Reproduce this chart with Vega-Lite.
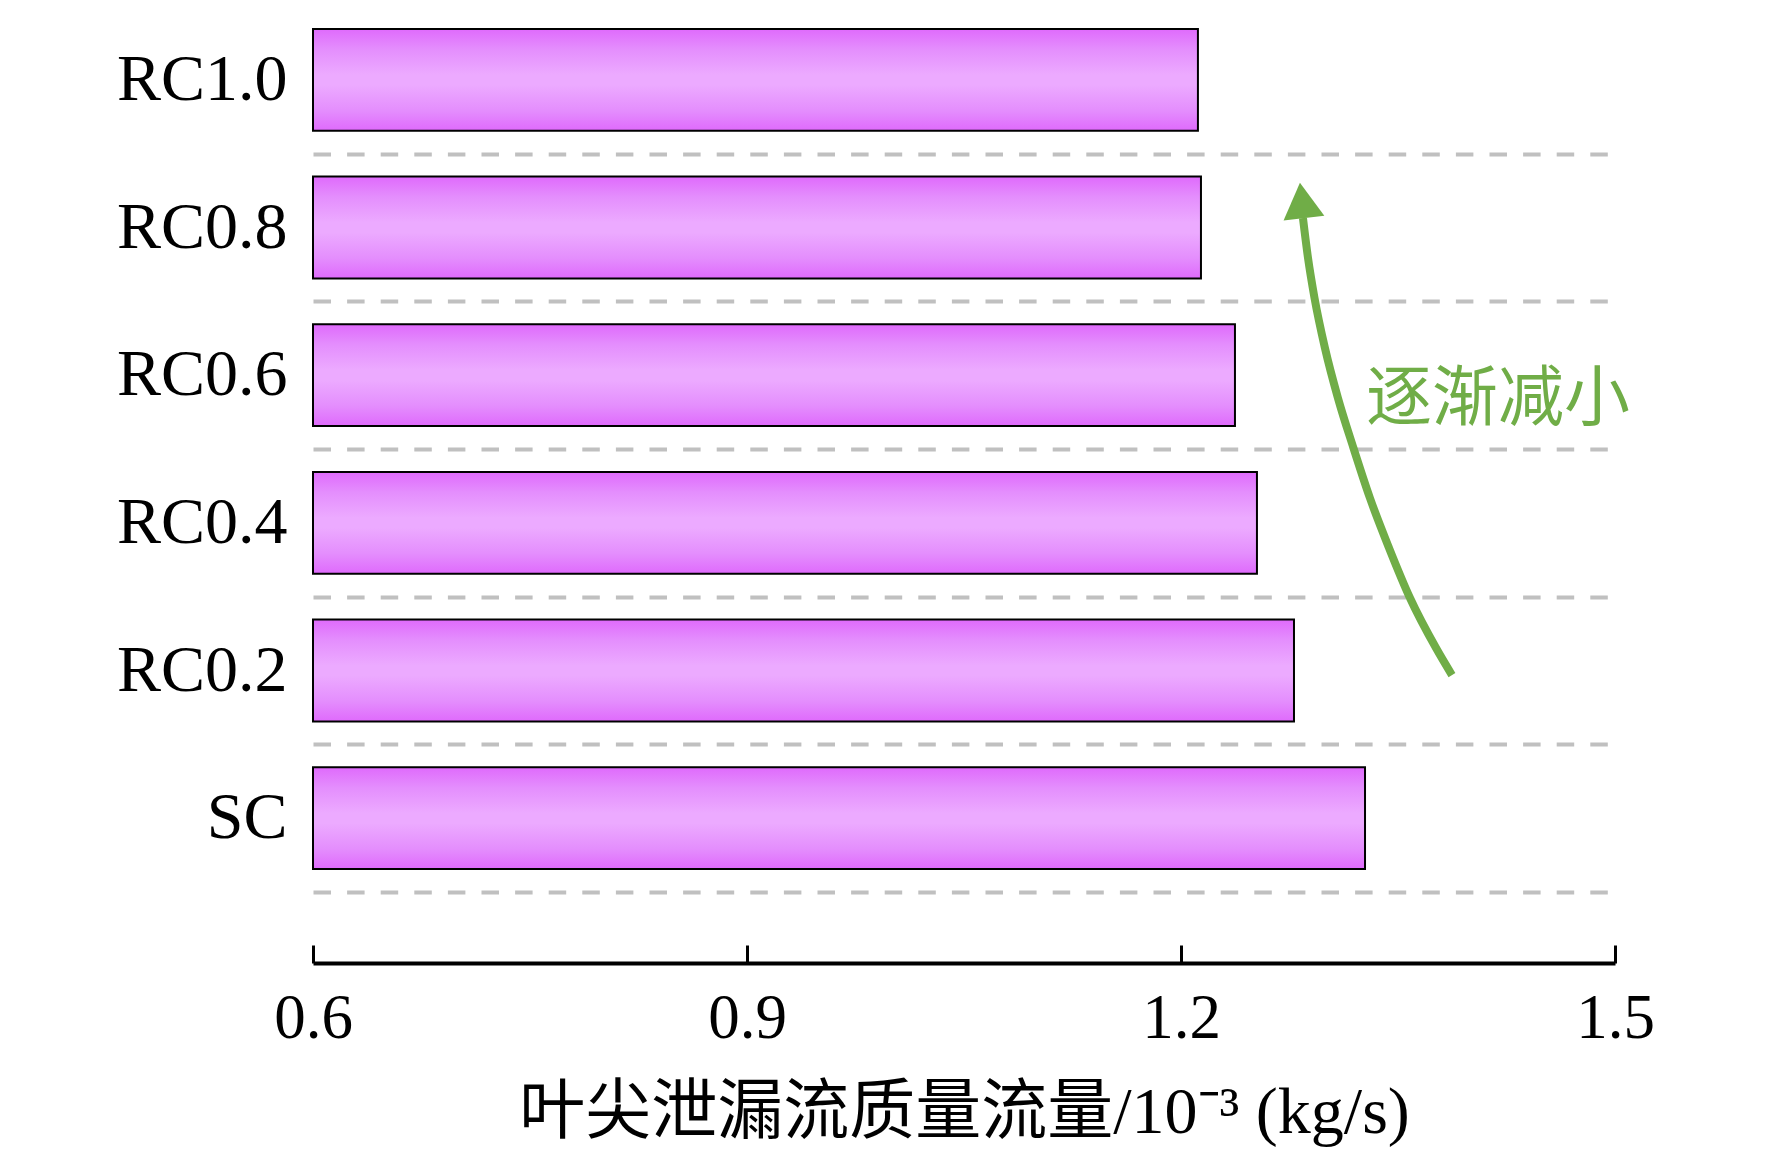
{
  "$schema": "https://vega.github.io/schema/vega-lite/v6.json",
  "autosize": {"type": "none"},
  "padding": {"left": 313, "top": 6, "right": 157, "bottom": 262},
  "width": 1302,
  "height": 886,
  "background": "white",
  "config": {"view": {"stroke": null}},
  "layer": [
    {
      "data": {
        "values": [
          {"case": "RC1.0", "flow": 1.2117},
          {"case": "RC0.8", "flow": 1.2138},
          {"case": "RC0.6", "flow": 1.2373},
          {"case": "RC0.4", "flow": 1.2525},
          {"case": "RC0.2", "flow": 1.2781},
          {"case": "SC", "flow": 1.3272}
        ]
      },
      "mark": {
        "type": "bar",
        "height": {"band": 0.69},
        "stroke": "black",
        "strokeWidth": 2,
        "fill": {
          "gradient": "linear",
          "x1": 0, "y1": 0, "x2": 0, "y2": 1,
          "stops": [
            {"offset": 0, "color": "#DF6AFC"},
            {"offset": 0.2, "color": "#E48EFD"},
            {"offset": 0.45, "color": "#ECAAFF"},
            {"offset": 0.55, "color": "#ECAAFF"},
            {"offset": 0.8, "color": "#E48EFD"},
            {"offset": 1, "color": "#DF6AFC"}
          ]
        }
      },
      "encoding": {
        "y": {
          "field": "case",
          "type": "nominal",
          "sort": null,
          "scale": {"paddingInner": 0, "paddingOuter": 0},
          "axis": {
            "title": null,
            "ticks": false,
            "domain": false,
            "grid": false,
            "labelFont": "Liberation Serif",
            "labelFontSize": 66,
            "labelColor": "black",
            "labelPadding": 26
          }
        },
        "x": {
          "field": "flow",
          "type": "quantitative",
          "scale": {"domain": [0.6, 1.5], "nice": false, "zero": false},
          "axis": {
            "values": [0.6, 0.9, 1.2, 1.5],
            "format": ".1f",
            "grid": false,
            "offset": 71,
            "domainColor": "black",
            "domainWidth": 4,
            "tickColor": "black",
            "tickWidth": 3,
            "tickSize": -18,
            "labelFont": "Liberation Serif",
            "labelFontSize": 63,
            "labelColor": "black",
            "labelPadding": 42,
            "labelFlush": false,
            "title": "叶尖泄漏流质量流量/10⁻³ (kg/s)",
            "titleFont": "Liberation Serif, Noto Sans CJK SC",
            "titleFontSize": 66,
            "titleFontWeight": "normal",
            "titleColor": "black",
            "titlePadding": 30
          }
        },
        "x2": {"datum": 0.6}
      }
    },
    {
      "layer": [
        {
          "data": {
            "values": [
              {"v": 1.2843, "pos": 4.564},
              {"v": 1.2878, "pos": 4.293},
              {"v": 1.2923, "pos": 4.022},
              {"v": 1.2995, "pos": 3.684},
              {"v": 1.3085, "pos": 3.345},
              {"v": 1.3192, "pos": 3.007},
              {"v": 1.3306, "pos": 2.668},
              {"v": 1.3438, "pos": 2.33},
              {"v": 1.3583, "pos": 1.991},
              {"v": 1.3763, "pos": 1.652},
              {"v": 1.3873, "pos": 1.469}
            ]
          },
          "mark": {"type": "line", "color": "#70AD47", "strokeWidth": 8, "interpolate": "monotone"},
          "encoding": {
            "x": {"field": "v", "type": "quantitative"},
            "y": {
              "field": "pos",
              "type": "quantitative",
              "scale": {"domain": [0, 6], "nice": false, "zero": false},
              "axis": {
                "orient": "right",
                "values": [0, 1, 2, 3, 4, 5],
                "labels": false,
                "ticks": false,
                "domain": false,
                "title": null,
                "grid": true,
                "gridColor": "#C0C0C0",
                "gridWidth": 4,
                "gridDash": [17.5, 16.1],
                "gridDashOffset": 25.9
              }
            }
          }
        },
        {
          "data": {"values": [{"v": 1.2836, "pos": 4.683}]},
          "mark": {"type": "point", "shape": "triangle-up", "filled": true, "color": "#70AD47", "opacity": 1, "size": 1681, "angle": -6.5},
          "encoding": {
            "x": {"field": "v", "type": "quantitative"},
            "y": {"field": "pos", "type": "quantitative"}
          }
        },
        {
          "data": {"values": [{"label": "逐渐减小", "v": 1.4191, "pos": 3.332}]},
          "mark": {"type": "text", "font": "Noto Sans CJK SC", "fontSize": 66, "color": "#70AD47", "align": "center", "baseline": "middle"},
          "encoding": {
            "x": {"field": "v", "type": "quantitative"},
            "y": {"field": "pos", "type": "quantitative"},
            "text": {"field": "label"}
          }
        }
      ]
    }
  ],
  "resolve": {"scale": {"y": "independent"}}
}
